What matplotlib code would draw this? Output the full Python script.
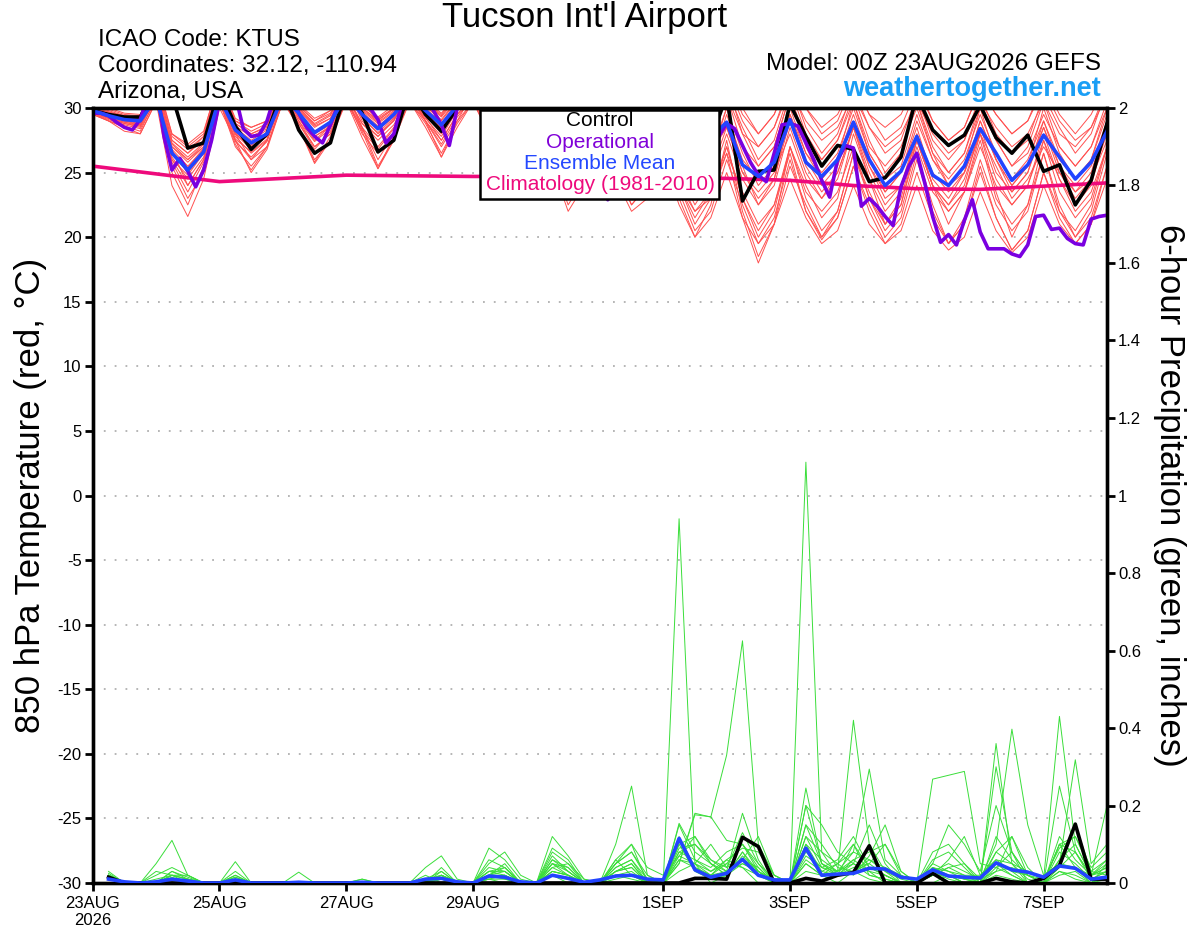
import numpy as np
import matplotlib
matplotlib.use("Agg")
import matplotlib.pyplot as plt
from matplotlib.patches import Rectangle

plt.rcParams['font.family'] = ['Liberation Sans', 'DejaVu Sans']
plt.rcParams['axes.unicode_minus'] = False

# ---- data ----
station = "Tucson Int'l Airport"
info_left = ["ICAO Code: KTUS", "Coordinates: 32.12, -110.94", "Arizona, USA"]
model_txt = "Model: 00Z 23AUG2026 GEFS"
site_txt = "weathertogether.net"

tick_days = [0, 2, 4, 6, 9, 11, 13, 15]
tick_labels = ["23AUG\n2026", "25AUG", "27AUG", "29AUG", "1SEP", "3SEP", "5SEP", "7SEP"]

# 850 hPa temperature, 6-hourly 00Z 23AUG .. 00Z 8SEP
t_mean = [29.8, 29.4, 29.1, 29.0, 30.8, 26.5, 25.2, 26.6, 30.8, 28.3, 27.3, 28.0, 30.9,
          29.6, 28.1, 28.9, 31.0, 29.5, 28.4, 29.5, 31.0, 29.8, 28.7, 30.2, 31.0, 29.5,
          28.0, 29.0, 30.8, 29.0, 27.5, 28.5, 30.2, 28.0, 26.5, 27.5, 29.8, 27.5, 26.0,
          27.7, 28.9, 25.6, 24.7, 25.8, 29.1, 25.8, 24.7, 26.0, 28.9, 26.0, 24.0, 25.1,
          27.8, 24.8, 24.0, 25.5, 28.4, 26.5, 24.4, 25.6, 27.9, 26.2, 24.5, 25.8, 28.2]
t_ctrl = [29.8, 29.5, 29.3, 29.3, 31.5, 31.0, 26.9, 27.3, 31.5, 28.6, 26.8, 28.0, 31.5,
          28.3, 26.5, 27.3, 31.5, 29.6, 26.6, 27.5, 31.5, 29.5, 28.2, 30.0, 31.5, 29.5,
          27.5, 28.5, 31.0, 29.0, 27.0, 28.0, 30.5, 28.0, 26.0, 27.0, 30.0, 28.0, 26.5,
          27.5, 31.0, 22.8, 25.1, 25.2, 30.3, 27.8, 25.5, 27.1, 26.8, 24.3, 24.6, 26.2,
          31.0, 28.3, 27.1, 27.9, 30.2, 27.7, 26.5, 27.9, 25.1, 25.6, 22.5, 24.4, 28.8]
# operational run, 3-hourly
t_oper = [29.6, 29.6, 29.4, 28.9, 28.5, 28.3, 29.1, 31.0, 32.0, 27.8, 25.2, 26.1, 25.1,
          23.9, 25.2, 27.5, 30.5, 32.0, 31.0, 28.4, 27.8, 27.9, 29.0, 31.0, 32.0, 32.0,
          29.6, 28.5, 27.8, 27.3, 28.7, 30.3, 32.0, 32.0, 30.5, 30.0, 29.1, 27.3, 28.0,
          30.3, 32.0, 32.0, 31.0, 29.8, 28.7, 27.1, 30.0, 32.0, 32.0, 31.0, 29.5, 28.3,
          27.5, 28.0, 29.5, 31.5, 32.0, 31.0, 29.0, 27.0, 26.0, 26.5, 28.5, 27.0, 24.5,
          22.9, 24.0, 26.5, 28.0, 27.0, 26.0, 25.5, 26.0, 27.5, 28.5, 27.5, 26.5, 26.0,
          27.0, 27.8, 28.8, 28.4, 27.1, 25.8, 24.8, 24.3, 26.5, 28.7, 28.8, 28.6, 27.3,
          26.0, 24.4, 23.1, 26.0, 27.1, 26.9, 22.4, 23.0, 22.4, 21.6, 20.9, 23.9, 25.5,
          26.5, 24.2, 21.6, 19.6, 20.2, 19.4, 21.3, 22.9, 20.4, 19.1, 19.1, 19.1, 18.7,
          18.5, 19.4, 21.6, 21.7, 20.6, 20.7, 19.9, 19.5, 19.4, 21.4, 21.6, 21.7]
# 1981-2010 climatology, daily
t_clim = [25.5, 24.9, 24.3, 24.55, 24.8, 24.75, 24.7, 24.7, 24.65, 24.6, 24.55, 24.4,
          24.0, 23.75, 23.7, 23.95, 24.2]

# ensemble members (first 25 values: 23-29AUG, then the rest)
tm01 = [29.9, 29.5, 29.0, 28.8, 31.5, 27.0, 25.8, 27.0, 31.2, 28.0, 27.0, 27.8, 31.0, 29.2, 27.8, 28.5, 31.2, 29.3, 28.0, 29.0, 31.5, 29.5, 28.3, 30.0, 31.5] + \
       [29.0, 27.5, 28.8, 31.0, 29.5, 28.0, 29.0, 30.5, 27.0, 25.5, 26.5, 29.0, 26.0, 24.5, 26.5, 28.5, 25.0, 23.5, 25.0, 28.0, 24.5, 23.0, 25.0, 28.5, 25.5, 23.0, 24.0, 27.5, 24.0, 22.5, 24.5, 28.0, 25.5, 23.0, 24.5, 27.0, 25.0, 23.0, 24.5, 27.5]
tm02 = [30.0, 29.8, 29.4, 29.3, 32.0, 27.5, 26.5, 27.8, 32.0, 28.8, 28.0, 28.6, 32.0, 30.0, 28.8, 29.5, 32.0, 30.2, 29.2, 30.0, 32.0, 30.5, 29.3, 30.8, 32.0] + \
       [30.5, 29.0, 30.0, 32.0, 30.0, 28.5, 29.5, 31.5, 29.5, 28.0, 29.0, 31.5, 29.0, 27.5, 29.0, 31.0, 28.0, 27.0, 28.5, 31.5, 29.0, 27.5, 28.5, 31.0, 28.5, 27.0, 28.0, 30.5, 28.0, 26.5, 27.5, 30.5, 28.5, 27.0, 28.0, 30.5, 28.0, 27.0, 28.5, 31.0]
tm03 = [29.5, 29.0, 28.5, 28.0, 30.5, 24.0, 21.6, 24.5, 30.0, 27.5, 26.0, 27.0, 30.5, 28.8, 27.0, 28.0, 30.5, 28.5, 27.0, 28.5, 30.5, 29.0, 27.5, 29.5, 30.5] + \
       [28.0, 26.0, 27.5, 29.5, 27.0, 24.5, 26.0, 28.5, 25.0, 23.0, 24.5, 27.5, 24.0, 21.5, 23.5, 26.5, 21.5, 18.0, 21.0, 25.5, 22.5, 20.0, 21.5, 25.5, 22.0, 19.5, 21.0, 25.0, 21.5, 19.5, 21.0, 25.5, 21.5, 19.0, 20.5, 25.0, 22.0, 20.0, 21.5, 25.5]
tm04 = [29.8, 29.2, 28.8, 28.5, 31.0, 26.0, 24.0, 26.0, 31.0, 28.2, 27.2, 28.0, 31.5, 29.5, 28.0, 28.8, 31.5, 29.0, 27.8, 29.0, 31.5, 29.5, 28.5, 30.2, 31.5] + \
       [29.0, 27.0, 28.5, 30.5, 28.5, 26.5, 28.0, 30.0, 27.0, 25.0, 26.5, 29.0, 26.0, 24.0, 25.5, 29.5, 26.0, 24.5, 26.0, 30.0, 26.5, 24.5, 26.0, 29.5, 26.0, 23.5, 25.0, 28.5, 24.5, 23.0, 25.0, 29.0, 26.0, 24.0, 25.5, 28.5, 25.5, 24.0, 25.5, 29.0]
tm05 = [30.2, 30.0, 29.6, 29.5, 32.5, 28.0, 27.0, 28.0, 32.5, 29.0, 28.5, 29.0, 32.5, 30.2, 29.0, 29.8, 32.5, 30.0, 29.0, 30.0, 32.5, 30.5, 29.5, 31.0, 32.5] + \
       [31.0, 30.0, 30.5, 32.5, 31.0, 29.5, 30.5, 32.5, 30.0, 28.5, 29.5, 32.0, 30.0, 28.5, 29.5, 32.5, 29.5, 28.0, 29.5, 32.5, 30.0, 28.5, 29.5, 32.0, 29.5, 28.5, 29.5, 32.0, 29.0, 27.5, 28.5, 31.5, 29.5, 28.0, 29.0, 32.0, 29.5, 28.0, 29.5, 32.0]
tm06 = [29.6, 29.0, 28.6, 28.2, 30.8, 25.5, 23.0, 25.0, 30.5, 27.0, 25.5, 27.0, 30.8, 28.5, 26.0, 27.5, 30.8, 28.0, 26.5, 28.0, 31.0, 29.0, 27.0, 29.0, 30.5] + \
       [28.5, 26.5, 27.5, 30.0, 27.0, 25.0, 26.5, 29.0, 25.5, 22.5, 24.0, 27.0, 24.0, 22.0, 23.0, 26.5, 23.5, 21.0, 22.5, 27.0, 23.0, 20.5, 22.0, 26.5, 23.5, 21.0, 22.5, 27.5, 24.0, 22.0, 23.5, 27.0, 24.0, 22.5, 24.0, 27.5, 24.5, 22.0, 23.5, 27.0]
tm07 = [29.9, 29.6, 29.2, 29.0, 31.5, 27.2, 26.0, 27.2, 31.5, 28.5, 27.5, 28.3, 31.5, 29.8, 28.5, 29.2, 31.5, 29.7, 28.6, 29.6, 31.5, 30.0, 28.8, 30.5, 31.5] + \
       [29.5, 28.0, 29.0, 31.5, 29.5, 27.5, 28.5, 31.0, 28.5, 27.0, 28.0, 30.5, 27.5, 26.0, 27.5, 31.0, 27.0, 25.5, 27.0, 31.0, 27.5, 26.0, 27.5, 30.5, 27.0, 25.5, 27.0, 30.0, 26.5, 25.0, 26.5, 30.0, 27.5, 25.5, 26.5, 29.5, 27.0, 25.5, 27.0, 30.0]
tm08 = [29.7, 29.3, 28.9, 28.7, 31.0, 26.5, 25.0, 26.5, 31.0, 27.8, 26.5, 27.5, 31.0, 29.0, 27.0, 28.0, 31.0, 28.5, 25.5, 27.5, 31.0, 29.3, 27.5, 29.5, 31.0] + \
       [28.5, 26.0, 27.0, 29.0, 25.5, 22.0, 24.0, 27.5, 24.5, 22.0, 23.0, 26.0, 22.5, 20.0, 21.5, 25.0, 21.5, 19.5, 21.0, 24.5, 21.5, 19.5, 20.5, 24.0, 21.0, 19.5, 20.5, 24.0, 20.5, 19.0, 20.0, 23.5, 20.5, 18.8, 20.0, 24.0, 21.0, 19.5, 21.0, 24.5]
tm09 = [30.0, 29.7, 29.3, 29.2, 31.8, 27.5, 26.5, 27.5, 31.8, 28.8, 28.0, 28.5, 31.8, 30.0, 28.7, 29.4, 31.8, 29.9, 28.9, 29.8, 31.8, 30.2, 29.0, 30.6, 31.8] + \
       [30.0, 28.5, 29.5, 31.5, 29.0, 27.0, 28.0, 30.5, 28.0, 26.0, 27.0, 30.0, 27.5, 25.0, 26.5, 30.0, 26.5, 24.0, 25.5, 29.5, 26.0, 24.0, 25.5, 29.0, 25.5, 23.5, 25.0, 29.0, 26.0, 24.5, 26.0, 29.5, 26.5, 24.5, 26.0, 29.0, 26.0, 24.5, 26.0, 29.5]
tm10 = [29.8, 29.4, 29.0, 28.9, 31.2, 26.8, 25.5, 26.8, 31.2, 28.0, 26.0, 27.5, 31.2, 29.2, 27.5, 28.6, 31.2, 28.5, 26.0, 28.0, 31.2, 29.0, 26.2, 29.0, 31.2] + \
       [29.0, 27.0, 28.0, 30.0, 27.5, 25.5, 27.0, 29.5, 26.5, 24.0, 25.5, 28.5, 25.0, 22.5, 24.5, 28.0, 24.5, 22.5, 24.0, 28.5, 25.0, 23.0, 24.5, 28.5, 24.5, 22.0, 23.5, 28.0, 24.0, 22.5, 24.0, 28.5, 25.0, 23.5, 25.0, 28.5, 25.0, 23.5, 24.5, 28.0]
tm11 = [30.1, 29.9, 29.5, 29.4, 32.2, 28.0, 27.2, 28.2, 32.2, 29.2, 28.5, 29.0, 32.2, 30.3, 29.2, 29.8, 32.2, 30.2, 29.3, 30.2, 32.2, 30.6, 29.6, 31.0, 32.2] + \
       [30.8, 29.5, 30.5, 32.5, 30.5, 28.5, 29.5, 32.0, 29.5, 27.5, 28.5, 31.5, 28.5, 26.5, 28.0, 32.0, 29.0, 27.0, 28.5, 32.0, 28.5, 26.5, 28.0, 31.5, 28.5, 26.5, 27.5, 31.0, 27.5, 26.0, 27.5, 31.0, 28.0, 26.5, 27.5, 31.0, 28.5, 26.5, 28.0, 31.5]
tm12 = [29.6, 29.1, 28.7, 28.4, 30.6, 25.0, 22.5, 25.5, 30.5, 27.2, 25.2, 27.0, 30.5, 28.6, 25.8, 27.8, 30.5, 28.2, 25.3, 27.8, 30.5, 28.8, 26.5, 28.8, 30.5] + \
       [28.0, 25.5, 26.5, 29.0, 26.5, 23.5, 25.5, 28.0, 25.0, 23.0, 24.0, 27.0, 23.5, 20.5, 22.0, 26.0, 22.5, 19.5, 21.5, 26.0, 22.0, 19.8, 21.5, 25.5, 22.5, 20.0, 21.5, 26.0, 22.0, 19.5, 21.0, 25.0, 21.5, 19.0, 20.5, 25.0, 21.5, 19.5, 21.0, 25.5]
tm13 = [29.9, 29.5, 29.1, 29.0, 31.3, 27.0, 26.0, 27.0, 31.3, 28.3, 27.2, 28.0, 31.3, 29.6, 28.2, 28.9, 31.3, 29.4, 28.3, 29.3, 31.3, 29.8, 28.6, 30.3, 31.3] + \
       [29.5, 28.0, 29.5, 32.0, 30.0, 28.0, 29.0, 31.0, 28.5, 26.5, 27.5, 30.5, 28.0, 26.5, 28.0, 31.5, 28.5, 26.0, 27.5, 31.5, 28.0, 26.0, 27.5, 31.0, 27.5, 25.0, 26.5, 30.5, 27.0, 25.0, 26.5, 30.5, 27.5, 25.5, 27.0, 30.5, 27.0, 25.5, 27.0, 30.5]
tm14 = [29.7, 29.2, 28.8, 28.6, 30.9, 26.2, 24.5, 26.2, 30.9, 27.6, 26.6, 27.6, 30.9, 29.0, 27.4, 28.4, 30.9, 28.8, 27.5, 28.7, 30.9, 29.2, 27.8, 29.8, 30.9] + \
       [28.5, 26.5, 28.0, 30.5, 28.0, 25.5, 27.0, 29.5, 26.0, 24.5, 25.5, 28.5, 25.5, 23.5, 25.0, 28.5, 25.0, 23.0, 24.5, 29.0, 25.5, 23.5, 25.0, 28.5, 25.0, 22.5, 24.0, 28.0, 25.0, 23.5, 25.0, 28.0, 24.5, 22.5, 24.0, 28.0, 24.5, 22.5, 24.0, 28.5]
tm15 = [30.0, 29.6, 29.3, 29.1, 31.6, 27.3, 26.2, 27.3, 31.6, 28.6, 27.8, 28.4, 31.6, 29.9, 28.6, 29.2, 31.6, 29.8, 28.8, 29.7, 31.6, 30.1, 29.1, 30.7, 31.6] + \
       [30.5, 29.0, 30.0, 32.0, 30.0, 28.0, 29.0, 31.5, 29.0, 27.0, 28.0, 31.0, 29.0, 27.0, 28.5, 32.0, 28.0, 25.5, 27.0, 31.0, 27.0, 24.5, 26.0, 30.5, 26.5, 24.5, 26.5, 30.5, 26.5, 24.0, 25.5, 30.0, 26.0, 24.0, 25.5, 30.0, 26.5, 24.5, 26.0, 30.0]
tm16 = [29.5, 29.0, 28.2, 28.0, 30.5, 26.0, 24.8, 26.5, 30.5, 27.5, 25.0, 26.8, 30.5, 28.5, 25.7, 27.5, 30.5, 27.7, 25.3, 27.5, 30.5, 28.5, 26.2, 28.5, 30.5] + \
       [28.0, 26.0, 27.0, 29.5, 26.0, 22.5, 24.5, 28.5, 25.0, 22.5, 24.0, 27.5, 24.0, 21.0, 23.0, 27.0, 23.0, 20.5, 22.5, 26.5, 22.0, 20.0, 22.0, 26.5, 23.0, 20.5, 22.0, 26.5, 22.5, 19.5, 21.5, 26.0, 22.5, 20.5, 22.0, 26.5, 22.5, 20.0, 22.0, 26.5]
tm17 = [29.8, 29.3, 29.0, 28.7, 31.0, 26.8, 24.0, 26.0, 31.0, 28.0, 26.8, 27.8, 31.0, 29.3, 27.8, 28.6, 31.0, 28.8, 27.8, 29.1, 31.0, 29.5, 28.0, 30.0, 31.0] + \
       [29.0, 27.0, 28.0, 30.5, 28.0, 24.0, 25.5, 29.5, 26.5, 23.0, 24.5, 28.0, 23.0, 20.0, 22.5, 27.5, 22.0, 18.5, 21.0, 27.0, 24.0, 21.5, 23.0, 28.0, 24.5, 21.0, 23.0, 27.5, 24.0, 21.0, 23.5, 28.0, 23.5, 20.0, 22.5, 27.5, 23.5, 21.5, 23.0, 27.0]
tm18 = [30.0, 29.7, 29.4, 29.2, 32.0, 27.8, 26.8, 27.8, 32.0, 29.0, 28.2, 28.8, 32.0, 30.1, 29.0, 29.6, 32.0, 30.0, 29.1, 29.9, 32.0, 30.4, 29.4, 30.9, 32.0] + \
       [31.0, 29.5, 30.0, 32.5, 30.5, 29.0, 30.0, 32.0, 30.0, 28.0, 29.5, 32.5, 30.5, 28.5, 30.0, 33.0, 30.0, 28.0, 29.5, 32.5, 30.0, 28.0, 29.0, 32.0, 29.5, 27.5, 28.5, 31.5, 29.0, 27.5, 28.5, 31.5, 29.5, 28.0, 29.0, 31.5, 29.0, 27.5, 28.5, 31.5]
tm19 = [29.7, 29.4, 29.1, 28.9, 31.2, 26.6, 25.4, 26.9, 31.2, 28.1, 27.1, 28.1, 31.2, 29.4, 28.0, 28.7, 31.2, 29.2, 28.1, 29.2, 31.2, 29.7, 28.4, 30.1, 31.2] + \
       [29.5, 27.5, 28.5, 31.0, 28.5, 26.0, 27.5, 30.5, 27.5, 25.5, 26.5, 30.0, 27.0, 25.0, 26.0, 30.0, 25.5, 22.5, 24.5, 29.5, 26.5, 25.0, 26.5, 30.0, 26.5, 24.5, 25.5, 29.5, 26.0, 24.0, 25.0, 29.0, 26.0, 23.5, 25.0, 29.0, 25.5, 23.5, 25.0, 29.0]
tm20 = [29.6, 29.2, 28.9, 28.6, 30.8, 25.8, 23.5, 25.8, 30.8, 27.4, 26.2, 27.4, 30.8, 28.8, 26.8, 28.2, 30.8, 28.3, 26.8, 28.4, 30.8, 29.0, 27.2, 29.3, 30.8] + \
       [28.5, 26.0, 27.0, 29.5, 27.0, 23.0, 25.0, 28.0, 25.5, 24.0, 25.0, 28.5, 24.5, 22.0, 23.5, 27.0, 23.0, 20.0, 22.0, 27.0, 23.5, 22.0, 23.5, 27.0, 23.0, 21.0, 22.5, 27.0, 23.5, 22.0, 23.5, 27.5, 23.0, 21.0, 22.5, 26.5, 22.0, 20.5, 22.5, 27.0]
t_members = [tm01, tm02, tm03, tm04, tm05, tm06, tm07, tm08, tm09, tm10,
             tm11, tm12, tm13, tm14, tm15, tm16, tm17, tm18, tm19, tm20]

# 6-hour precipitation (inches), 06Z 23AUG .. 00Z 8SEP
p_mean = [.010, .003, 0, .003, .010, .005, 0, 0,
          .008, 0, 0, 0, .002, 0, 0, 0,
          .002, 0, 0, 0, .010, .012, .003, 0,
          .018, .015, .003, 0, .020, .012, .002, .008,
          .018, .020, .010, .008, .115, .034, .015, .025,
          .061, .020, .008, .008, .090, .020, .023, .025,
          .038, .036, .015, .010, .034, .018, .015, .013,
          .052, .034, .028, .015, .044, .038, .010, .015]
p_ctrl = [.015, 0, 0, 0, 0, 0, 0, 0,
          0, 0, 0, 0, 0, 0, 0, 0,
          0, 0, 0, 0, 0, 0, 0, 0,
          0, 0, 0, 0, 0, 0, 0, 0,
          0, 0, 0, 0, 0, .012, .012, .010,
          .118, .094, 0, 0, .012, .005, .020, .027,
          .096, 0, 0, 0, .025, 0, 0, 0,
          .012, .003, 0, .012, .045, .152, .010, .010]
pm01 = [.02, 0, 0, 0, 0, 0, 0, 0,  0, 0, 0, 0, 0, 0, 0, 0,  0, 0, 0, 0, 0, 0, 0, 0,
        .01, 0, 0, 0, .02, 0, 0, 0,  .03, .05, 0, 0, .94, .05, 0, .02,  .08, .02, 0, 0, .05, .02, 0, .03,
        .01, 0, 0, 0, 0, .02, 0, 0,  .05, .02, 0, 0, .03, .01, 0, .02]
pm02 = [.03, 0, 0, .05, .11, .02, 0, 0,  .01, 0, 0, 0, 0, 0, 0, 0,  0, 0, 0, 0, .02, 0, 0, 0,
        .04, .03, 0, 0, .05, .02, 0, 0,  .06, .02, 0, 0, .12, .04, .02, .05,  .04, 0, 0, 0, 1.086, .08, .02, .05,
        .02, .01, 0, 0, .03, .01, 0, 0,  .02, .01, 0, 0, .05, .04, 0, .01]
pm03 = [.01, 0, 0, .03, .02, .01, 0, 0,  .055, 0, 0, 0, 0, 0, 0, 0,  0, 0, 0, 0, .04, .07, .01, 0,
        .09, .06, .01, 0, .12, .07, .01, 0,  .02, .01, 0, 0, .05, .18, .17, .33,  .625, .10, .02, 0, .03, .02, .05, .10,
        .04, .02, 0, 0, .02, .02, 0, 0,  .36, .05, 0, 0, .04, .08, .01, .03]
pm04 = [.02, 0, 0, 0, .03, .01, 0, 0,  0, 0, 0, 0, .028, 0, 0, 0,  .01, 0, 0, 0, 0, .03, 0, 0,
        .05, .08, .02, 0, .06, .04, 0, 0,  .10, .25, .02, 0, .03, .05, .10, .04,  .13, .05, 0, 0, .20, .05, .03, .42,
        .10, .03, .01, 0, .05, .03, .01, 0,  .03, .04, .02, 0, .02, .03, 0, .05]
pm05 = [.015, 0, 0, .02, .04, .02, 0, 0,  .02, 0, 0, 0, 0, 0, 0, 0,  0, 0, 0, 0, .01, .02, .005, 0,
        .03, .04, 0, 0, .03, .02, 0, 0,  .04, .06, .01, 0, .08, .10, .06, .03,  .05, .03, .01, 0, .10, .03, .05, .08,
        .294, .06, .02, 0, .04, .02, 0, .01,  .05, .03, .02, .01, .43, .10, .02, .04]
pm06 = [.02, 0, 0, 0, .02, 0, 0, 0,  .03, 0, 0, 0, 0, 0, 0, 0,  0, 0, 0, 0, 0, .02, 0, 0,
        .02, .05, 0, 0, .07, .03, 0, 0,  .03, .04, 0, 0, .15, .06, .03, .05,  .10, .04, 0, 0, .05, .02, .03, .05,
        .03, 0, 0, 0, .268, .278, .288, .05,  .04, .02, 0, 0, .03, .02, 0, .02]
pm07 = [.01, 0, 0, 0, .01, 0, 0, 0,  .01, 0, 0, 0, 0, 0, 0, 0,  0, 0, 0, 0, .01, .03, 0, 0,
        .02, .01, 0, 0, .08, .05, .01, 0,  .05, .08, .01, 0, .06, .05, .02, .03,  .06, .12, .02, 0, .08, .04, .02, .03,
        .05, .10, .03, 0, .02, .04, .05, .01,  .10, .397, .15, .02, .05, .318, .05, .10]
pm08 = [.025, 0, 0, 0, .01, .005, 0, 0,  0, 0, 0, 0, 0, 0, 0, 0,  0, 0, 0, 0, 0, .01, 0, 0,
        .02, .02, 0, 0, .05, .04, 0, 0,  .05, .10, 0, 0, .07, .12, .05, .02,  .08, .03, 0, 0, .12, .08, .05, .02,
        .07, .15, .03, 0, .05, .15, .10, .03,  .20, .08, .02, 0, .12, .06, .02, .20]
pm09 = [0, 0, 0, 0, .01, .01, 0, 0,  .01, 0, 0, 0, 0, 0, 0, 0,  0, 0, 0, 0, 0, .02, 0, 0,
        .01, .02, 0, 0, .04, .02, 0, 0,  .03, .04, 0, 0, .10, .03, .01, .02,  .07, .03, 0, 0, .245, .05, .02, .06,
        .03, .02, 0, 0, .02, .04, .02, 0,  .30, .08, 0, 0, .10, .04, .02, .05]
pm10 = [.02, 0, 0, 0, .02, .01, 0, 0,  .02, 0, 0, 0, 0, 0, 0, 0,  0, 0, 0, 0, 0, .01, 0, 0,
        .03, .03, 0, 0, .06, .03, 0, 0,  .02, .03, 0, 0, .154, .08, .05, .03,  .18, .06, 0, 0, .06, .03, .02, .10,
        .02, .01, 0, 0, .08, .10, .05, 0,  .08, .05, .01, 0, .06, .15, .03, .02]
pm11 = [.01, 0, 0, 0, .03, .015, 0, 0,  .015, 0, 0, 0, 0, 0, 0, 0,  .01, 0, 0, 0, 0, .04, 0, 0,
        .06, .04, 0, 0, .09, .06, 0, 0,  .04, .06, 0, 0, .05, .176, .171, .11,  .10, .03, 0, 0, .15, .10, .04, .03,
        .06, .03, 0, 0, .04, .02, .01, .01,  .03, .12, .02, 0, .25, .08, .02, .04]
pm12 = [.015, 0, 0, 0, .015, 0, 0, 0,  0, 0, 0, 0, 0, 0, 0, 0,  0, 0, 0, 0, 0, .015, 0, 0,
        .015, .02, 0, 0, .03, .02, 0, 0,  .02, .02, 0, 0, .06, .04, .02, .06,  .04, .02, 0, 0, .20, .15, .08, .05,
        .15, .05, 0, 0, .02, .06, .12, .02,  .06, .03, 0, 0, .08, .05, .01, .03]
pm13 = [.01, 0, 0, 0, .02, .01, 0, 0,  .01, 0, 0, 0, 0, 0, 0, 0,  0, 0, 0, 0, .005, .02, 0, 0,
        .03, .02, 0, 0, .05, .03, 0, 0,  .05, .08, .02, 0, .08, .06, .04, .08,  .10, .05, .01, 0, .10, .06, .03, .08,
        .06, .04, .02, 0, .03, .05, .03, .01,  .08, .12, .04, 0, .10, .12, .04, .08]
pm14 = [.02, 0, 0, 0, .01, 0, 0, 0,  0, 0, 0, 0, 0, 0, 0, 0,  0, 0, 0, 0, 0, .01, 0, 0,
        .01, .01, 0, 0, .02, .01, 0, 0,  .01, .02, 0, 0, .10, .12, .06, .04,  .06, .04, 0, 0, .07, .04, .06, .12,
        .04, .02, 0, 0, .06, .08, .04, 0,  .12, .06, .02, 0, .10, .08, .02, .06]
pm15 = [.02, 0, 0, .01, .02, .02, 0, 0,  .015, 0, 0, 0, 0, 0, 0, 0,  0, 0, 0, 0, .01, .01, 0, 0,
        .02, .03, 0, 0, .04, .05, 0, 0,  .06, .10, .04, .02, .07, .05, .03, .06,  .09, .08, .02, 0, .12, .04, .03, .06,
        .08, .10, .02, 0, .04, .03, .02, .02,  .06, .05, .03, .01, .09, .12, .03, .06]
pm16 = [.01, 0, 0, 0, .01, 0, 0, 0,  .005, 0, 0, 0, 0, 0, 0, 0,  0, 0, 0, 0, 0, .02, 0, 0,
        .02, .04, 0, 0, .03, .02, 0, 0,  .03, .05, 0, 0, .09, .10, .05, .02,  .05, .03, 0, 0, .15, .05, .02, .04,
        .05, .02, 0, 0, .03, .02, .01, 0,  .04, .08, .02, 0, .06, .10, .02, .03]
p_members = [pm01, pm02, pm03, pm04, pm05, pm06, pm07, pm08,
             pm09, pm10, pm11, pm12, pm13, pm14, pm15, pm16]


def hours(vals, step, start=0):
    return start + step * np.arange(len(vals))


fig = plt.figure(figsize=(12, 9.27), dpi=100)
ax = fig.add_axes([0.07725, 0.04746, 0.84525, 0.83604])
ax2 = ax.twinx()

# temperature
for m in t_members:
    ax.plot(hours(m, 6), m, color='#ff5050', lw=0.7, zorder=2)
ax.plot(hours(t_clim, 24), t_clim, color='#ee0a7c', lw=2.6, zorder=3)
ax.plot(hours(t_ctrl, 6), t_ctrl, color='black', lw=2.6, zorder=4)
ax.plot(hours(t_oper, 3), t_oper, color='#7a00e0', lw=2.6, zorder=5)
ax.plot(hours(t_mean, 6), t_mean, color='#2244ff', lw=2.6, zorder=6)

# precipitation
for m in p_members:
    ax2.plot(hours(m, 6, 6), m, color='#3ade3a', lw=0.7, zorder=2)
ax2.plot(hours(p_ctrl, 6, 6), p_ctrl, color='black', lw=2.6, zorder=4)
ax2.plot(hours(p_mean, 6, 6), p_mean, color='#2244ff', lw=2.6, zorder=5)

ax.set_xlim(0, 384)
ax.set_ylim(-30, 30)
ax2.set_ylim(0, 2)
ax.set_yticks(np.arange(-30, 31, 5))
ax.set_yticklabels([str(v) for v in range(-30, 31, 5)])
ax2.set_yticks(np.arange(0, 2.01, 0.2))
ax2.set_yticklabels(['0', '0.2', '0.4', '0.6', '0.8', '1', '1.2', '1.4', '1.6', '1.8', '2'])
ax.set_xticks([d * 24 for d in tick_days])
ax.set_xticklabels(tick_labels)

for y in range(-25, 30, 5):
    ax.axhline(y, color='#b0b0b0', lw=1.3, ls=(0, (1, 5)), zorder=1)

for a in (ax, ax2):
    for s in a.spines.values():
        s.set_linewidth(2.4)
    a.tick_params(direction='out', length=6, width=2, labelsize=12, pad=2)
ax.tick_params(axis='x', pad=3)

ax.set_ylabel("850 hPa Temperature (red, °C)", fontsize=25, va='center')
ax.yaxis.set_label_coords(-0.061, 0.5)
ax2.set_ylabel("6-hour Precipitation (green, inches)", fontsize=25, rotation=270, va='center')
ax2.yaxis.set_label_coords(1.062, 0.5)

# header texts
fig.text(0.4875, 1 - 18 / 927, station, ha='center', va='center', fontsize=25)
for k, s in enumerate(info_left):
    fig.text(98 / 1200, 1 - (40 + 26 * k) / 927, s, ha='left', va='center', fontsize=17.5)
fig.text(1101 / 1200, 1 - 64 / 927, model_txt, ha='right', va='center', fontsize=17.5)
fig.text(1101 / 1200, 1 - 89 / 927, site_txt, ha='right', va='center', fontsize=19.5,
         fontweight='bold', color='#1a9ef5')

# legend box
box = Rectangle((480 / 1200, 1 - 199 / 927), 239 / 1200, 89 / 927, transform=fig.transFigure,
                facecolor='white', edgecolor='black', lw=1.8, zorder=10)
fig.add_artist(box)
leg_items = [("Control", 'black'), ("Operational", '#8000d8'),
             ("Ensemble Mean", '#2448ff'), ("Climatology (1981-2010)", '#ee0a7c')]
for k, (s, c) in enumerate(leg_items):
    fig.text(600 / 1200, 1 - (121 + 21.3 * k) / 927, s, ha='center', va='center',
             fontsize=15, color=c, zorder=11)

fig.savefig("out.png", dpi=100)
